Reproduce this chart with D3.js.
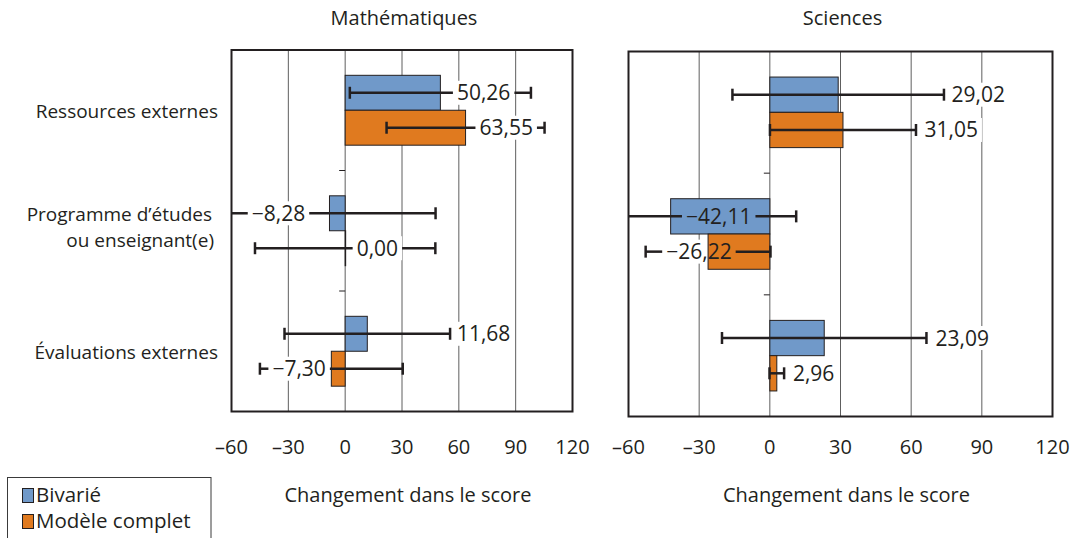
<!DOCTYPE html>
<html>
<head>
<meta charset="utf-8">
<script src="https://cdn.jsdelivr.net/npm/d3@7"></script>
<style>
  body { margin: 0; background: #fff; }
  svg { display: block; font-family: "Open Sans", sans-serif; }
</style>
</head>
<body>
<svg id="chart" width="1082" height="538"></svg>
<script>
// ---- data -------------------------------------------------------------
const categories = ["Ressources externes", "Programme d’études|ou enseignant(e)", "Évaluations externes"];
const seriesNames = ["Bivarié", "Modèle complet"];
const subjects = ["Mathématiques", "Sciences"];
const xTicks = [-60, -30, 0, 30, 60, 90, 120];

// change in score (coefficients)
const mathBivarie = [50.26, -8.28, 11.68];
const mathComplet = [63.55, 0.00, -7.30];
const sciBivarie  = [29.02, -42.11, 23.09];
const sciComplet  = [31.05, -26.22, 2.96];

// half-width of the confidence intervals
const mathBivarieErr = [47.8, 56.0, 43.7];
const mathCompletErr = [41.7, 47.6, 37.7];
const sciBivarieErr  = [44.9, 53.3, 43.4];
const sciCompletErr  = [31.0, 26.5, 3.1];

// where each value label sits along the score axis (label centre)
const mathBivarieLabelAt = [73.1, -35.2, 73.1];
const mathCompletLabelAt = [85.0, 17.0, -24.3];
const sciBivarieLabelAt  = [88.5, -21.7, 81.7];
const sciCompletLabelAt  = [77.0, -30.1, 18.6];

// ---- styling ----------------------------------------------------------
const colors = ["#7099c9", "#e07a1f"];
const ink = "#231f20";
const gridColor = "#5e5e5e";

const svg = d3.select("#chart");

const panels = [
  { title: subjects[0], x0: 231.5, x1: 572.5, y0: 50, y1: 411.5,
    values: [mathBivarie, mathComplet], errs: [mathBivarieErr, mathCompletErr],
    labelAt: [mathBivarieLabelAt, mathCompletLabelAt] },
  { title: subjects[1], x0: 628.5, x1: 1052.5, y0: 51.5, y1: 416.5,
    values: [sciBivarie, sciComplet], errs: [sciBivarieErr, sciCompletErr],
    labelAt: [sciBivarieLabelAt, sciCompletLabelAt] }
];

const fmt = v => d3.format(".2f")(v).replace(".", ",").replace("-", "–");
const tickFmt = v => String(v).replace("-", "–");

panels.forEach((p, pi) => {
  const x = d3.scaleLinear().domain([xTicks[0], xTicks[xTicks.length - 1]]).range([p.x0, p.x1]);
  const y = d3.scaleBand().domain(categories).range([p.y0, p.y1])
    .paddingInner(0.42).paddingOuter(0.21);
  const ySub = d3.scaleBand().domain(seriesNames).range([0, y.bandwidth()]);

  const g = svg.append("g");
  const gridLayer = g.append("g");
  const bgLayer = g.append("g");
  const barLayer = g.append("g");
  const errLayer = g.append("g");
  const frameLayer = g.append("g");
  const textLayer = g.append("g");

  // vertical grid lines
  gridLayer.selectAll("line").data(xTicks.slice(1, -1)).join("line")
    .attr("x1", d => x(d)).attr("x2", d => x(d))
    .attr("y1", p.y0).attr("y2", p.y1)
    .attr("stroke", gridColor).attr("stroke-width", 1);

  // small ticks between categories on the zero line
  const step = y.step();
  const bounds = d3.range(1, categories.length).map(i => p.y0 + i * step);
  gridLayer.selectAll("line.cat").data(bounds).join("line").attr("class", "cat")
    .attr("x1", x(0) - 6).attr("x2", x(0))
    .attr("y1", d => d).attr("y2", d => d)
    .attr("stroke", ink).attr("stroke-width", 1);

  // frame
  frameLayer.append("rect")
    .attr("x", p.x0).attr("y", p.y0)
    .attr("width", p.x1 - p.x0).attr("height", p.y1 - p.y0)
    .attr("fill", "none").attr("stroke", ink).attr("stroke-width", 2);

  // panel title
  svg.append("text")
    .attr("x", (p.x0 + p.x1) / 2 + 2).attr("y", 25)
    .attr("text-anchor", "middle").attr("font-size", 20).attr("fill", ink)
    .text(p.title);

  // x tick labels
  svg.append("g").selectAll("text").data(xTicks).join("text")
    .attr("x", d => x(d)).attr("y", 454)
    .attr("text-anchor", "middle").attr("font-size", 20).attr("fill", ink)
    .text(tickFmt);

  // axis title
  svg.append("text")
    .attr("x", (p.x0 + p.x1) / 2 + 6).attr("y", 502)
    .attr("text-anchor", "middle").attr("font-size", 20).attr("fill", ink)
    .text("Changement dans le score");

  seriesNames.forEach((s, si) => {
    categories.forEach((c, ci) => {
      const v = p.values[si][ci];
      const e = p.errs[si][ci];
      const cy = y(c) + ySub(s) + ySub.bandwidth() / 2;

      // bar
      const bx = Math.min(x(0), x(v));
      const bw = Math.abs(x(v) - x(0));
      barLayer.append("rect")
        .attr("x", bx).attr("y", y(c) + ySub(s))
        .attr("width", Math.max(bw, 0.5)).attr("height", ySub.bandwidth())
        .attr("fill", colors[si]).attr("stroke", ink).attr("stroke-width", 1);

      // value label
      const t = textLayer.append("text")
        .attr("x", x(p.labelAt[si][ci])).attr("y", cy + 7.5)
        .attr("text-anchor", "middle").attr("font-size", 21).attr("fill", ink)
        .text(fmt(v));
      const bb = t.node().getBBox();
      const pad = 4;
      const boxL = bb.x - pad, boxR = bb.x + bb.width + pad;
      bgLayer.append("rect")
        .attr("x", boxL).attr("y", cy - 12)
        .attr("width", boxR - boxL).attr("height", 24)
        .attr("fill", "#fff");

      // error bar, clipped to the frame and broken around the label
      const loV = v - e, hiV = v + e;
      const lo = x(Math.max(loV, xTicks[0]));
      const hi = x(Math.min(hiV, xTicks[xTicks.length - 1]));
      const segs = [];
      if (boxR <= lo || boxL >= hi) segs.push([lo, hi]);
      else {
        if (boxL > lo) segs.push([lo, boxL]);
        if (boxR < hi) segs.push([boxR, hi]);
      }
      segs.forEach(([a, b]) => errLayer.append("line")
        .attr("x1", a).attr("x2", b).attr("y1", cy).attr("y2", cy)
        .attr("stroke", ink).attr("stroke-width", 2.5));
      const caps = [];
      if (loV >= xTicks[0]) caps.push(lo);
      if (hiV <= xTicks[xTicks.length - 1]) caps.push(hi);
      caps.forEach(cx => errLayer.append("line")
        .attr("x1", cx).attr("x2", cx).attr("y1", cy - 6).attr("y2", cy + 6)
        .attr("stroke", ink).attr("stroke-width", 2.5));
    });
  });

  // category labels on the left panel only
  if (pi === 0) {
    const lab = svg.append("g");
    categories.forEach(c => {
      const cy = y(c) + y.bandwidth() / 2;
      const lines = c.split("|");
      const txt = lab.append("text")
        .attr("text-anchor", "end").attr("font-size", 19).attr("fill", ink);
      if (lines.length === 1) {
        txt.attr("x", 218).attr("y", cy + 7.5).text(lines[0]);
      } else {
        txt.append("tspan").attr("x", 212).attr("y", cy - 9.5).text(lines[0]);
        txt.append("tspan").attr("x", 214).attr("y", cy + 16.5).text(lines[1]);
      }
    });
  }
});

// legend
const legend = svg.append("g");
legend.append("rect")
  .attr("x", 7.5).attr("y", 477.5).attr("width", 203.5).attr("height", 80)
  .attr("fill", "#fff").attr("stroke", "#3a3a3a").attr("stroke-width", 1);
seriesNames.forEach((s, i) => {
  legend.append("rect")
    .attr("x", 22.5).attr("y", 488.5 + i * 26).attr("width", 11).attr("height", 14)
    .attr("fill", colors[i]).attr("stroke", ink).attr("stroke-width", 1);
  legend.append("text")
    .attr("x", 36).attr("y", 502 + i * 26)
    .attr("font-size", 20.5).attr("fill", ink)
    .text(s);
});
</script>
</body>
</html>
